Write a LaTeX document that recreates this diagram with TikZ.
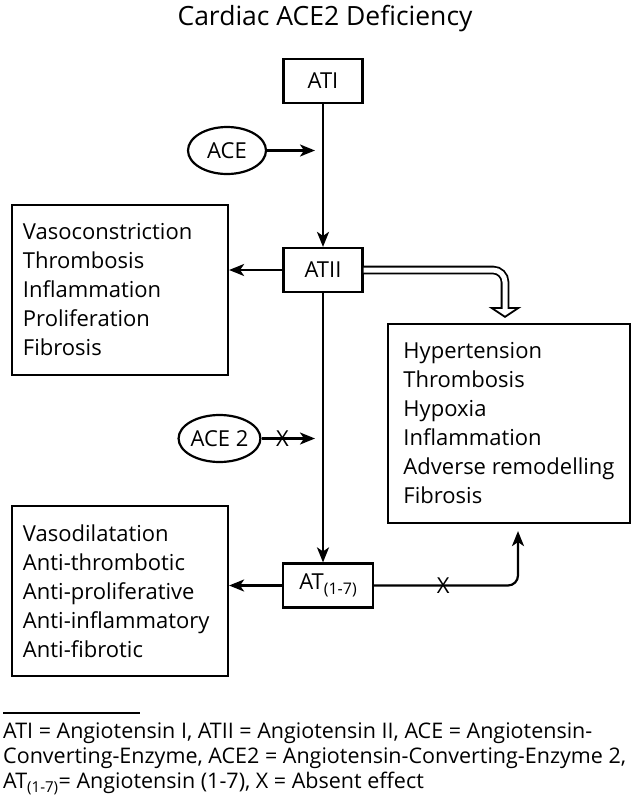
\documentclass[tikz,border=0pt]{standalone}
\usepackage{fontspec}
\setmainfont{Open Sans}
\usepackage{tikz}
\usetikzlibrary{shapes.geometric, arrows, arrows.meta}
\tikzstyle{arrow} = [line width=2.2pt,->,>={Stealth[length=15pt,width=12pt,inset=4pt]}]
\tikzstyle{box} = [rectangle, draw=black, line width=2.2pt, minimum width=79pt, minimum height=44pt, inner sep=0pt]
\tikzstyle{oval} = [ellipse, draw=black, line width=2.2pt, minimum width=78pt, minimum height=47pt, inner sep=0pt]
\tikzstyle{listbox} = [rectangle, draw=black, line width=2.2pt, align=left, inner xsep=11pt, inner ysep=0pt]
\tikzstyle{cross} = [inner sep=0pt]

\begin{document}
\begin{tikzpicture}[x=1pt, y=-1pt, font=\fontsize{22}{29}\selectfont]
		\useasboundingbox (0,0) rectangle (631,798);
		\node (title) [anchor=base] at (325,25) {\fontsize{26.5}{32}\selectfont Cardiac ACE2 Deficiency};
		\node (ati) [box] at (323,81) {ATI};
		\node (ace) [oval] at (227,150.5) {ACE};
		\draw [arrow, shorten >=8pt] (ace) -- (ace -| ati);
		\node (atii) [box] at (323,270) {ATII};
		\draw [arrow] (ati) -- (atii);
		\node (vaso) [listbox, minimum width=216pt, minimum height=170pt, text width=194pt] at (120,290) {Vasoconstriction\\Thrombosis\\Inflammation\\Proliferation\\Fibrosis};
		\draw [arrow] (atii.west) -- (atii.west -| vaso.east);
		\node (hyper) [listbox, minimum width=242pt, minimum height=199pt] at (509,423.5) {Hypertension\\Thrombosis\\Hypoxia\\Inflammation\\Adverse remodelling\\Fibrosis};
		\coordinate (dtip) at ([xshift=-4pt, yshift=6pt]hyper.north);
		\draw [line width=1.8pt, fill=white] (dtip) -- ++(-13.5,-9) -- ++(27,0) -- cycle;
		\draw [double, double distance=5pt, line width=1.8pt, rounded corners=12pt] (atii.east) -| ([yshift=8pt]dtip);
		\node (ace2) [oval] at (219.5,438.5) {ACE 2};
		\draw [arrow, shorten >=8pt] (ace2) -- node [cross, pos=0.34] {X} (ace2 -| atii);
		\node (at17) [box, minimum width=90pt] at (328,585.5) {AT\raisebox{-5pt}{\fontsize{16}{18}\selectfont(1-7)}};
		\draw [arrow] (atii.south) -- (atii.south |- at17.north);
		\node (anti) [listbox, minimum width=216pt, minimum height=170pt, text width=194pt] at (120,591) {Vasodilatation\\Anti-thrombotic\\Anti-proliferative\\Anti-inflammatory\\Anti-fibrotic};
		\draw [arrow] (at17.west) -- (at17.west -| anti.east);
		\draw [arrow, rounded corners=10pt, shorten >=7pt] (at17.east) -| node [cross, pos=0.24] {X} ([xshift=9pt]hyper.south);
		\node (foot) [anchor=north west, align=left, inner sep=0pt, font=\fontsize{21.5}{25}\selectfont] at (3,723) {ATI = Angiotensin I, ATII = Angiotensin II, ACE = Angiotensin-\\Converting-Enzyme, ACE2 = Angiotensin-Converting-Enzyme 2,\\AT\textsubscript{(1-7)}= Angiotensin (1-7), X = Absent effect};
		\draw [line width=1.6pt] ([yshift=10pt]foot.north west) -- ++(137,0);
\end{tikzpicture}
\end{document}
